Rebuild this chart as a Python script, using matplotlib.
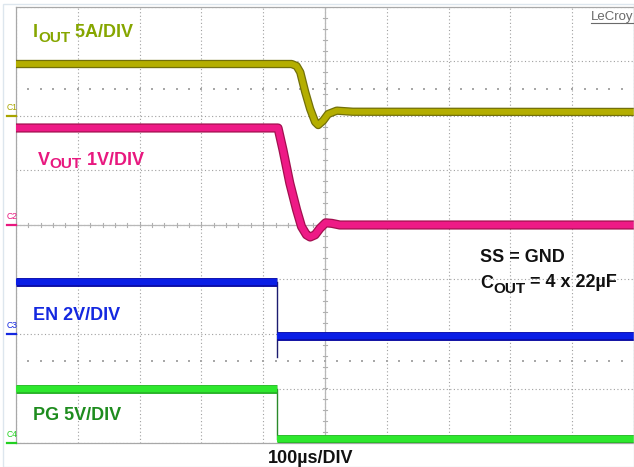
import matplotlib
matplotlib.use('Agg')
import matplotlib.pyplot as plt
from matplotlib.lines import Line2D
from matplotlib.patches import Rectangle
import matplotlib.patheffects as pe
import numpy as np

# ---------------- data (time in µs, 100 µs/DIV) ----------------
iout_t = [0, 446, 454, 460, 468, 476, 484, 489, 497, 505, 519, 545, 1000]
iout_a = [4.77, 4.77, 4.59, 4.01, 2.20, 0.64, -0.55, -0.83, -0.43, 0.18, 0.49, 0.39, 0.37]

vout_t = [0, 424, 432, 443, 454, 462, 470, 476, 484, 492, 501, 511, 524, 1000]
vout_v = [1.78, 1.78, 1.38, 0.77, 0.28, -0.03, -0.18, -0.22, -0.18, -0.06, 0.04, 0.03, 0.0, 0.0]

edge_t = 423          # EN / PG falling edge time (µs)
en_high, en_low, en_dip = 1.91, -0.07, -0.84   # V
pg_high, pg_low = 4.95, 0.40                  # V
t_end = 1000

# channel reference (div) and scale (units/div): C1 IOUT, C2 VOUT, C3 EN, C4 PG
ch_names = ['C1', 'C2', 'C3', 'C4']
ch_offset = [2, 0, -2, -4]
ch_scale = [5, 1, 2, 5]

W, H = 634, 467
fig = plt.figure(figsize=(W / 100, H / 100), dpi=100)
fig.patch.set_facecolor('white')
FONT = 'Liberation Sans'

# outer light frame
fig.add_artist(Rectangle((3 / W, 0), (W - 3) / W, (H - 4) / H, transform=fig.transFigure,
                         fill=False, edgecolor='#dde6ee', lw=1.0))

ax = fig.add_axes([16 / W, 1 - 443 / H, 618 / W, 436 / H])
ax.set_xlim(0, 1000)
ax.set_ylim(-4, 4)
ax.set_xticks(np.arange(0, 1001, 100))
ax.set_yticks(np.arange(-4, 5, 1))
ax.tick_params(length=0, labelbottom=False, labelleft=False)
ax.grid(True, color='#a0a0a0', linestyle=(0, (1, 2.2)), lw=0.8)
ax.set_axisbelow(True)
for s in ax.spines.values():
    s.set_color('#a8a8a8')
    s.set_linewidth(0.9)

# central axes with minor ticks
ax.axvline(500, color='#b8b8b8', lw=0.9, zorder=1)
ax.axhline(0, color='#b8b8b8', lw=0.9, zorder=1)
for yy in np.arange(-4, 4.01, 0.2):
    ax.plot([496, 504], [yy, yy], color='#b0b0b0', lw=0.8, zorder=1)
for xx in np.arange(0, 1001, 20):
    ax.plot([xx, xx], [-0.045, 0.045], color='#b0b0b0', lw=0.8, zorder=1)
# sparse tick dot rows at +/-2.5 div
for yy in (2.5, -2.5):
    xs = np.arange(20, 1000, 20)
    ax.scatter(xs, np.full_like(xs, yy, dtype=float), s=1.2, marker='s', color='#a8a8a8',
               linewidths=0, zorder=1)


def to_div(vals, ch):
    return [ch_offset[ch] + v / ch_scale[ch] for v in vals]


def band(x, y, center, edge, lw=4.6, elw=6.4, z=3):
    ax.plot(x, y, color=center, lw=lw, solid_joinstyle='round', solid_capstyle='butt', zorder=z,
            path_effects=[pe.Stroke(linewidth=elw, foreground=edge), pe.Normal()])


# IOUT
band(iout_t, to_div(iout_a, 0), '#b4ae00', '#72700a', lw=4.2, elw=6.0)
# VOUT
band(vout_t, to_div(vout_v, 1), '#ee1a86', '#a2104f', lw=4.8, elw=6.6)
# EN
ax.plot([edge_t, edge_t], to_div([en_high, en_dip], 2), color='#1c1c70', lw=1.0, zorder=2)
band([0, edge_t], to_div([en_high, en_high], 2), '#0a1ee6', '#0a0aa0')
band([edge_t, t_end], to_div([en_low, en_low], 2), '#0a1ee6', '#0a0aa0')
# PG
ax.plot([edge_t, edge_t], to_div([pg_high, pg_low], 3), color='#2a8a2a', lw=1.0, zorder=2)
band([0, edge_t], to_div([pg_high, pg_high], 3), '#2ee82e', '#27b027')
band([edge_t, t_end], to_div([pg_low, pg_low], 3), '#2ee82e', '#27b027')

# channel markers
ch_colors = ['#a8a400', '#e8187f', '#1428e0', '#22d022']
for name, off, c in zip(ch_names, ch_offset, ch_colors):
    ax.plot([-0.0146, 0.0], [off, off], color=c, lw=1.6, clip_on=False,
            transform=ax.get_yaxis_transform(), zorder=4)
    ax.text(-0.0146, off + 0.08, name, color=c, fontsize=6.2, family=FONT,
            transform=ax.get_yaxis_transform(), ha='left', va='bottom')

fig.canvas.draw()
renderer = fig.canvas.get_renderer()


def ftext(x, y, s, size, color, weight='bold'):
    return fig.text(x / W, 1 - y / H, s, fontsize=size, color=color, fontweight=weight,
                    family=FONT, ha='left', va='baseline')


def rich(x, y, parts, color):
    cur = x
    for s, size, dy in parts:
        t = ftext(cur, y + dy, s, size, color)
        bb = t.get_window_extent(renderer)
        cur = bb.x1


rich(33, 37, [('I', 13, 0), ('OUT', 11, 4.5), (' 5A/DIV', 13, 0)], '#86a600')
rich(37.5, 165, [('V', 13, 0), ('OUT', 11, 3.5), (' 1V/DIV', 13, 0)], '#e8187f')
ftext(33, 320, 'EN 2V/DIV', 13, '#1428e0')
ftext(33, 420, 'PG 5V/DIV', 13, '#1e8c1e')
ftext(480, 262, 'SS = GND', 13, '#111111')
rich(480, 288, [('C', 13, 0), ('OUT', 11, 5), (' = 4 x 22µF', 13, -1)], '#111111')
ftext(268, 463, '100µs/DIV', 13, '#111111')

lc = ftext(591, 20, 'LeCroy', 9.5, '#6a6a6a', weight='normal')
bb = lc.get_window_extent(renderer)
fig.add_artist(Line2D([bb.x0 / W, bb.x1 / W], [1 - 22.5 / H, 1 - 22.5 / H],
                      transform=fig.transFigure, color='#6a6a6a', lw=0.8))

fig.savefig('out.png', dpi=100, facecolor='white')
